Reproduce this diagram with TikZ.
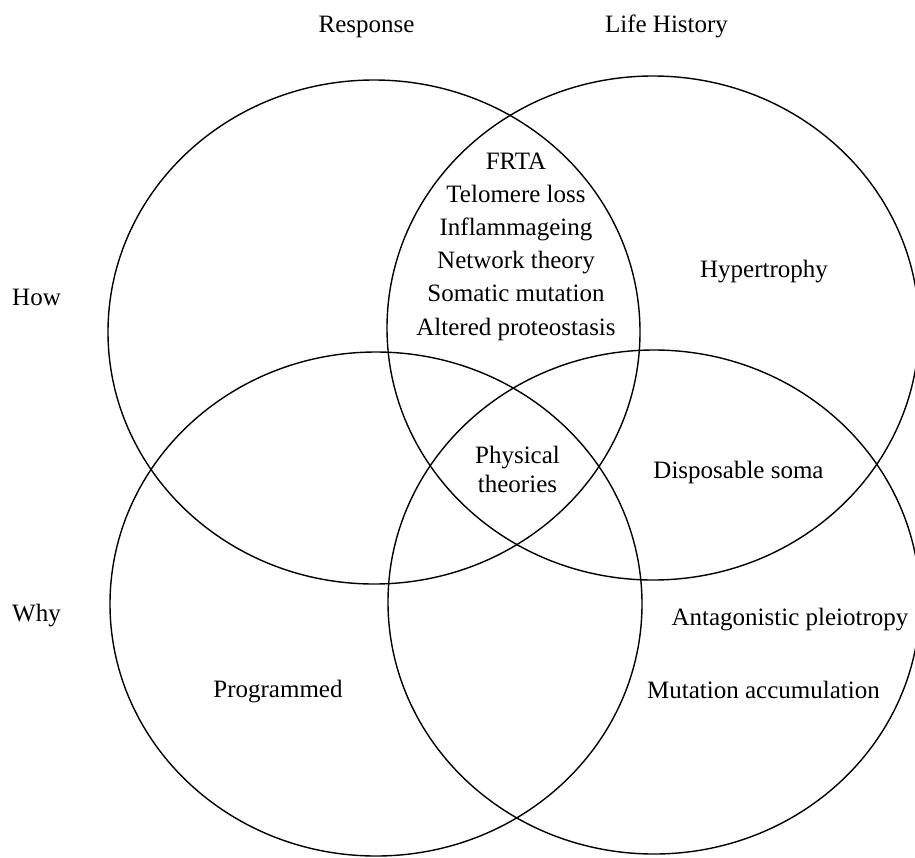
\documentclass[tikz,border=0pt]{standalone}
\usepackage{fontspec}
\setmainfont{Liberation Serif}
\begin{document}
\begin{tikzpicture}[x=1pt,y=-1pt,
  ring/.style={line width=1.4pt},
  lbl/.style={anchor=base, inner sep=0pt, font=\fontsize{25}{30}\selectfont},
  side/.style={lbl, anchor=base west}]
\useasboundingbox (0,0) rectangle (915,857);

% the four overlapping sets
\begin{scope}
  \clip (0,0) rectangle (915,857);
  \draw[ring] (374,332) ellipse [x radius=266pt, y radius=252pt];
  \draw[ring] (653,328) ellipse [x radius=266pt, y radius=252pt];
  \draw[ring] (376,604) ellipse [x radius=266pt, y radius=252pt];
  \draw[ring] (654,602) ellipse [x radius=266pt, y radius=252pt];
\end{scope}

% axis headings
\node[lbl]  (response) at (366.5,32) {Response};
\node[lbl]  (life)     at (666.5,32) {Life History};
\node[side] (how)      at (12,305)   {How};
\node[side] (why)      at (12,621)   {Why};

% shared region of the two upper sets
\node[lbl] (frta)  at (516,169.0) {FRTA};
\node[lbl] (telo)  at (516,202.2) {Telomere loss};
\node[lbl] (infl)  at (516,235.4) {Inflammageing};
\node[lbl] (netw)  at (516,268.6) {Network theory};
\node[lbl] (soma)  at (516,301.8) {Somatic mutation};
\node[lbl] (prot)  at (516,335.0) {Altered proteostasis};

% remaining regions
\node[lbl] (hyper) at (764,277)   {Hypertrophy};
\node[lbl] (phys1) at (517.5,463) {Physical};
\node[lbl] (phys2) at (517.5,492) {theories};
\node[lbl] (disp)  at (738.5,478) {Disposable soma};
\node[lbl] (anta)  at (790,625)   {Antagonistic pleiotropy};
\node[lbl] (muta)  at (763.5,698) {Mutation accumulation};
\node[lbl] (prog)  at (278,697)   {Programmed};
\end{tikzpicture}
\end{document}
